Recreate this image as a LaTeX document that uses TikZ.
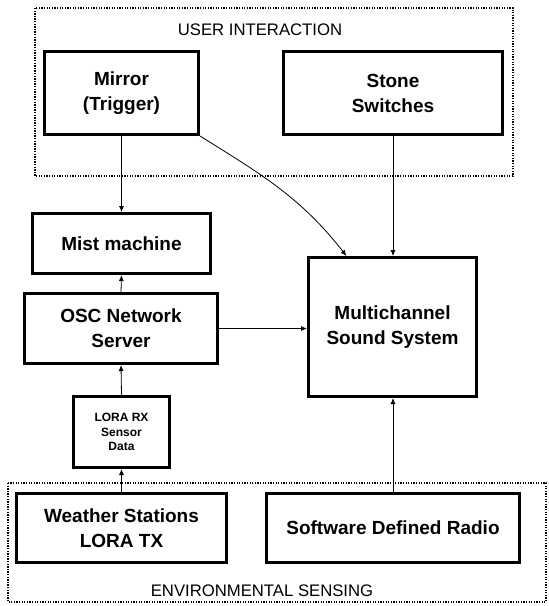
\documentclass[tikz,border=0pt]{standalone}
\usepackage{fontspec}
\setmainfont{Liberation Sans}
\usetikzlibrary{arrows.meta,calc}
\begin{document}
\begin{tikzpicture}[x=1pt,y=-1pt,
  box/.style={draw,line width=3pt,inner sep=0pt,align=center,font=\fontsize{19}{25}\selectfont\bfseries},
  smallbox/.style={box,font=\fontsize{12}{14.5}\selectfont\bfseries},
  group/.style={draw,line width=1.5pt,dash pattern=on 1.3pt off 1.3pt},
  title/.style={font=\fontsize{16.7}{20}\selectfont},
  arr/.style={-{Latex[length=6pt,width=5pt]},line width=0.8pt}]
\useasboundingbox (0,0) rectangle (549,606);
\draw[group] (35,8) rectangle (513,176);
\draw[group] (8,483) rectangle (546,602);
\node[title] (ui) at (260,30) {USER INTERACTION};
\node[title] (env) at (262,591) {ENVIRONMENTAL SENSING};
\node[box,minimum width=154pt,minimum height=83pt] (mirror) at (121.5,93) {Mirror\\(Trigger)};
\node[box,minimum width=219pt,minimum height=83pt] (stone) at (393,93) {Stone\\Switches};
\node[box,minimum width=178pt,minimum height=60pt] (mist) at (121.5,243.5) {Mist machine};
\node[box,minimum width=193pt,minimum height=70pt] (osc) at (121,328.5) {OSC Network\\Server};
\node[box,minimum width=168pt,minimum height=139pt] (multi) at (392.5,327) {Multichannel\\Sound System};
\node[smallbox,minimum width=96pt,minimum height=71pt] (lora) at (121.5,432) {LORA RX\\Sensor\\Data};
\node[box,minimum width=210pt,minimum height=69pt] (weather) at (121.5,528) {Weather Stations\\LORA TX};
\node[box,minimum width=253pt,minimum height=69pt] (sdr) at (393,528) {Software Defined Radio};
\draw[arr] (mirror.south) -- (mist.north);
\draw[arr] (stone.south) -- (stone.south |- multi.north);
\draw[arr] (mirror.south east) to[out=-32,in=128] ([xshift=-46pt]multi.north);
\draw[arr] (osc.north) -- (mist.south);
\draw[arr] (osc.east) -- (osc.east -| multi.west);
\draw[arr] (lora.north) -- (osc.south);
\draw[arr] (weather.north) -- (lora.south);
\draw[arr] (sdr.north) -- (sdr.north |- multi.south);
\end{tikzpicture}
\end{document}
